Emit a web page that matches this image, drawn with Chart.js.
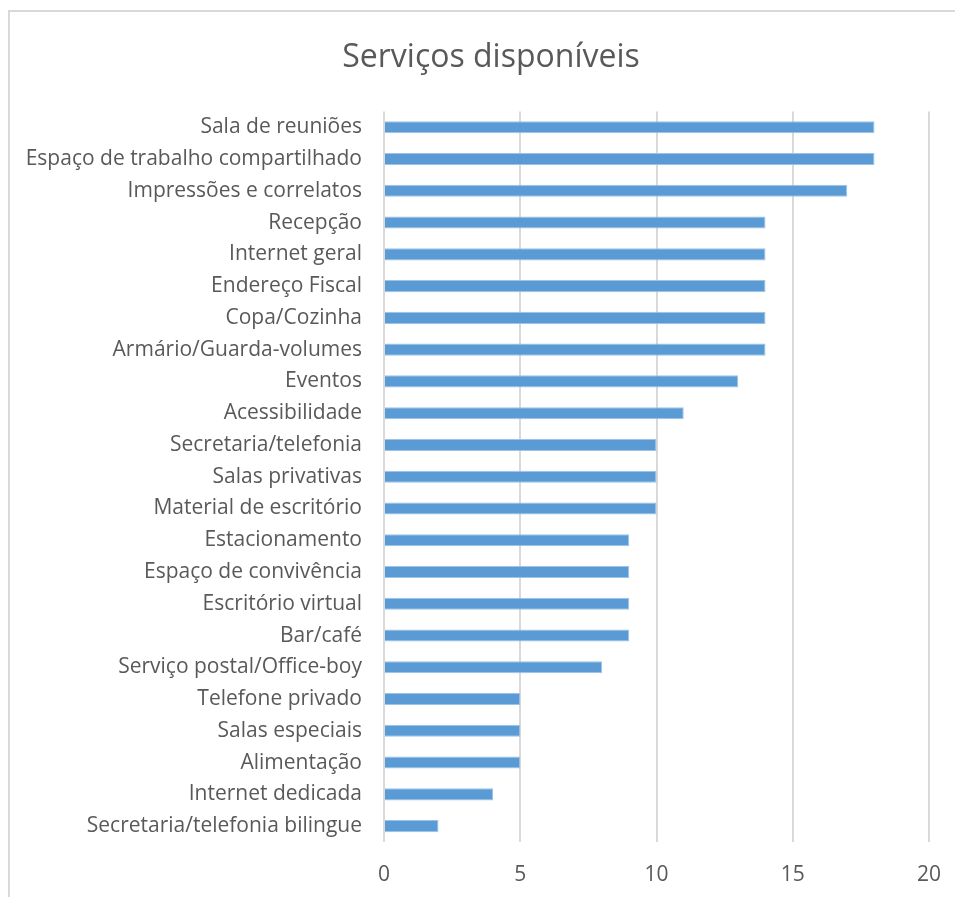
<!DOCTYPE html>
<html lang="pt-BR">
<head>
<meta charset="utf-8">
<title>Serviços disponíveis</title>
<script src="https://cdn.jsdelivr.net/npm/chart.js@4.4.1/dist/chart.umd.min.js"></script>
<style>
    html, body {
        margin: 0;
        padding: 0;
        background: #ffffff;
        overflow: hidden;
    }
    .moldura {
        position: absolute;
        left: 8px;
        top: 10px;
        width: 980px;
        height: 920px;
        border: 2px solid #d9d9d9;
        box-sizing: border-box;
    }
    .grafico {
        position: absolute;
        left: 10px;
        top: 12px;
        width: 962px;
        height: 885px;
    }
</style>
</head>
<body>
<div class="moldura"></div>
<div class="grafico"><canvas id="graficoServicos"></canvas></div>
<script>
// Serviços e quantidade de espaços que oferecem cada um
const servicos = [
    "Sala de reuniões",
    "Espaço de trabalho compartilhado",
    "Impressões e correlatos",
    "Recepção",
    "Internet geral",
    "Endereço Fiscal",
    "Copa/Cozinha",
    "Armário/Guarda-volumes",
    "Eventos",
    "Acessibilidade",
    "Secretaria/telefonia",
    "Salas privativas",
    "Material de escritório",
    "Estacionamento",
    "Espaço de convivência",
    "Escritório virtual",
    "Bar/café",
    "Serviço postal/Office-boy",
    "Telefone privado",
    "Salas especiais",
    "Alimentação",
    "Internet dedicada",
    "Secretaria/telefonia bilingue"
];
const quantidades = [18, 18, 17, 14, 14, 14, 14, 14, 13, 11, 10, 10, 10, 9, 9, 9, 9, 8, 5, 5, 5, 4, 2];
const eixoMin = 0;
const eixoMax = 20;
const eixoPasso = 5;

const fonte = "'Open Sans', 'Noto Sans', sans-serif";
const corTexto = "#595959";

document.addEventListener("DOMContentLoaded", function () {
    const ctx = document.getElementById("graficoServicos").getContext("2d");
    new Chart(ctx, {
        type: "bar",
        data: {
            labels: servicos,
            datasets: [{
                data: quantidades,
                backgroundColor: "#5b9bd5",
                borderColor: "#9dc3e6",
                borderWidth: 1,
                barPercentage: 0.76,
                categoryPercentage: 0.5
            }]
        },
        options: {
            indexAxis: "y",
            responsive: true,
            maintainAspectRatio: false,
            animation: false,
            layout: {
                padding: { left: 0, right: 0, top: 0, bottom: 10 }
            },
            plugins: {
                legend: { display: false },
                tooltip: { enabled: false },
                title: {
                    display: true,
                    text: "Serviços disponíveis",
                    color: corTexto,
                    font: { family: fonte, size: 32, weight: "normal" },
                    padding: { top: 27, bottom: 34 }
                }
            },
            scales: {
                x: {
                    min: eixoMin,
                    max: eixoMax,
                    afterFit: function (escala) {
                        // espaço vazio à direita da área do gráfico e altura fixa do eixo
                        escala.paddingRight = 43;
                        escala.height = 45;
                    },
                    ticks: {
                        stepSize: eixoPasso,
                        color: corTexto,
                        padding: 20,
                        font: { family: fonte, size: 21 }
                    },
                    grid: {
                        color: "#d9d9d9",
                        lineWidth: 2,
                        drawTicks: false
                    },
                    border: { display: false }
                },
                y: {
                    afterFit: function (escala) {
                        escala.width = 374;
                    },
                    ticks: {
                        color: corTexto,
                        padding: 22,
                        autoSkip: false,
                        font: { family: fonte, size: 21 }
                    },
                    grid: { display: false, drawTicks: false },
                    border: { display: false }
                }
            }
        }
    });
});
</script>
</body>
</html>
